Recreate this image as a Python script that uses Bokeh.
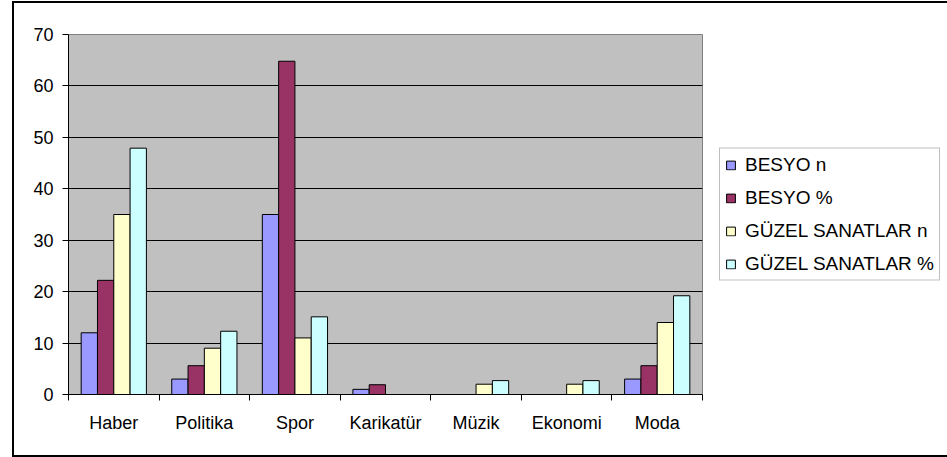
from bokeh.plotting import figure
from bokeh.models import Range1d, FixedTicker, Legend, LegendItem, ColumnDataSource
from bokeh.embed import file_html
from bokeh.resources import INLINE

categories = ["Haber", "Politika", "Spor", "Karikatür", "Müzik", "Ekonomi", "Moda"]
besyo_n = [12, 3, 35, 1, 0, 0, 3]
besyo_pct = [22.2, 5.6, 64.8, 1.9, 0, 0, 5.6]
guzel_n = [35, 9, 11, 0, 2, 2, 14]
guzel_pct = [47.9, 12.3, 15.1, 0, 2.7, 2.7, 19.2]
series_names = ["BESYO n", "BESYO %", "GÜZEL SANATLAR n", "GÜZEL SANATLAR %"]
series_values = [besyo_n, besyo_pct, guzel_n, guzel_pct]
colors = ["#9999FF", "#993366", "#FFFFCC", "#CCFFFF"]
y_ticks = [0, 10, 20, 30, 40, 50, 60, 70]

FONT = "Liberation Sans"

p = figure(
    frame_width=634, frame_height=360,
    x_range=Range1d(0, len(categories)), y_range=Range1d(0, 70),
    output_backend="svg", toolbar_location=None,
    min_border_left=54, min_border_right=0, min_border_top=31, min_border_bottom=61,
)
p.styles = {
    "border-left": "2px solid black",
    "border-top": "2px solid black",
    "border-bottom": "2px solid black",
    "margin-left": "12px",
    "margin-top": "1px",
}

p.background_fill_color = "#C0C0C0"
p.border_fill_color = "white"
p.outline_line_color = "#808080"
p.outline_line_width = 1

bar_w = 0.18
offsets = [-0.27, -0.09, 0.09, 0.27]
items = []
for name, vals, col, off in zip(series_names, series_values, colors, offsets):
    src = ColumnDataSource(dict(x=[i + 0.5 + off for i in range(len(categories))], top=vals))
    r = p.vbar(x="x", top="top", width=bar_w, source=src, fill_color=col,
               line_color="black", line_width=1)
    items.append(LegendItem(label=name, renderers=[r]))

# x axis: labels at category centres, ticks at category boundaries
centres = [i + 0.5 for i in range(len(categories))]
xa = p.xaxis[0]
xa.ticker = FixedTicker(ticks=centres, minor_ticks=list(range(len(categories) + 1)))
xa.major_label_overrides = {c: cat for c, cat in zip(centres, categories)}
xa.major_tick_out = 0
xa.major_tick_in = 0
xa.minor_tick_out = 6
xa.minor_tick_in = 0
xa.minor_tick_line_color = "black"
xa.axis_line_color = "black"
xa.major_label_standoff = 12
xa.major_label_text_font = FONT
xa.major_label_text_font_size = "18px"
xa.major_label_text_color = "black"

ya = p.yaxis[0]
ya.ticker = FixedTicker(ticks=y_ticks)
ya.major_tick_out = 6
ya.major_tick_in = 0
ya.minor_tick_out = 0
ya.minor_tick_in = 0
ya.axis_line_color = "black"
ya.major_tick_line_color = "black"
ya.major_label_standoff = 9
ya.major_label_text_font = FONT
ya.major_label_text_font_size = "18px"
ya.major_label_text_color = "black"

p.xgrid.visible = False
p.ygrid.ticker = FixedTicker(ticks=y_ticks[1:-1])
p.ygrid.grid_line_color = "black"
p.ygrid.grid_line_width = 1

legend = Legend(items=items, location="center_left")
legend.label_text_font = FONT
legend.label_text_font_size = "19px"
legend.label_text_color = "black"
legend.glyph_width = 11
legend.glyph_height = 11
legend.label_standoff = 9
legend.label_height = 20
legend.spacing = 11
legend.padding = 5
legend.margin = 17
legend.border_line_color = "#808080"
legend.border_line_width = 1
legend.background_fill_color = "white"
legend.background_fill_alpha = 1
p.add_layout(legend, "right")

open("out.html", "w").write(file_html(p, INLINE))
